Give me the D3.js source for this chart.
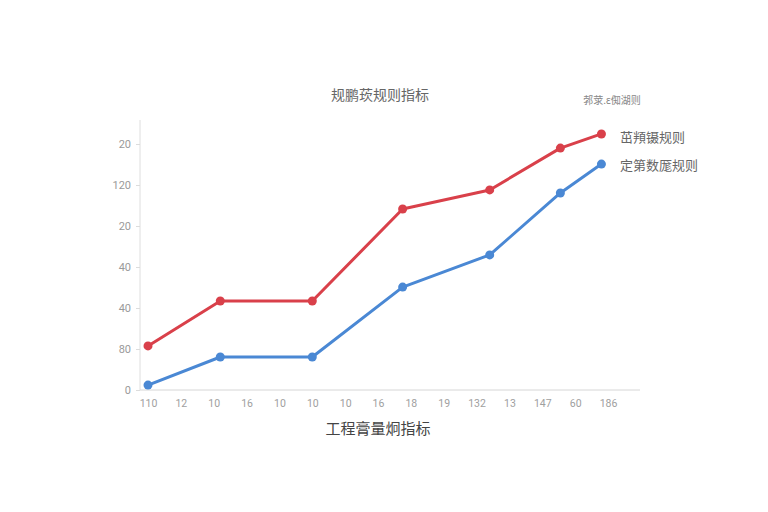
<!DOCTYPE html>
<html><head><meta charset="utf-8">
<script src="https://cdn.jsdelivr.net/npm/d3@7"></script>
<style>body{margin:0;background:#fff;}svg{display:block;font-family:"Noto Sans CJK SC","Noto Sans",sans-serif;}</style>
</head><body>
<svg id="c" width="768" height="512"></svg>
<script>
const title = "规鹏莰规则指标";
const xTitle = "工程膏量炯指标";
const legendTitle = "郣莍.ɛ倁湖则";
const xTickLabels = ["110","12","10","16","10","10","10","16","18","19","132","13","147","60","186"];
const yTickValues = [0,20,40,60,80,100,120];
const yTickLabels = ["0","80","40","40","20","120","20"];
const seriesNames = ["茁頖镊规则","定第数厖规则"];
const seriesColors = ["#d9404a","#4a88d4"];
const xPositions = [0, 2.2, 5, 7.75, 10.4, 12.55, 13.8];
const redValues = [21.5, 43.4, 43.4, 88.3, 97.6, 118, 124.9];
const blueValues = [2.4, 16.1, 16.1, 50.2, 65.9, 96.1, 110.2];

const svg = d3.select("#c");
const x = d3.scaleLinear().domain([0, 14]).range([148, 608]);
const y = d3.scaleLinear().domain([0, 120]).range([390, 144]);

// axes lines
svg.append("line").attr("x1",140).attr("x2",640).attr("y1",y(0)).attr("y2",y(0)).attr("stroke","#d6d6d6");
svg.append("line").attr("x1",140).attr("x2",140).attr("y1",120).attr("y2",y(0)).attr("stroke","#dedede");

const yAxis = d3.axisLeft(y).tickValues(yTickValues).tickSize(4).tickPadding(5)
  .tickFormat((d,i)=>yTickLabels[i]);
const gy = svg.append("g").attr("transform","translate(140,0)").call(yAxis);
gy.select(".domain").remove();
gy.selectAll(".tick line").attr("stroke","#dcdcdc");
gy.selectAll(".tick text").attr("fill","#9a9a9a").style("font-size","11px").style("font-family","Roboto, sans-serif");

const xAxis = d3.axisBottom(x).tickValues(d3.range(15)).tickSize(0).tickPadding(10)
  .tickFormat((d,i)=>xTickLabels[i]);
const gx = svg.append("g").attr("transform",`translate(0,${y(0)})`).call(xAxis);
gx.select(".domain").remove();
gx.selectAll(".tick text").attr("fill","#a0a0a0").style("font-size","10.5px").style("font-family","Roboto, sans-serif");

// titles
svg.append("text").attr("x",380).attr("y",100).attr("text-anchor","middle").attr("fill","#666").style("font-size","14px").text(title);
svg.append("text").attr("x",378).attr("y",434).attr("text-anchor","middle").attr("fill","#444").style("font-size","15px").text(xTitle);
svg.append("text").attr("x",612).attr("y",104).attr("text-anchor","middle").attr("fill","#888").style("font-size","10px").text(legendTitle);

const line = d3.line().x((d,i)=>x(xPositions[i])).y(d=>y(d));
[redValues, blueValues].forEach((vals, k)=>{
  svg.append("path").datum(vals).attr("d", line).attr("fill","none")
    .attr("stroke", seriesColors[k]).attr("stroke-width",3).attr("stroke-linejoin","round");
  svg.selectAll(null).data(vals).enter().append("circle")
    .attr("cx",(d,i)=>x(xPositions[i])).attr("cy",d=>y(d)).attr("r",4.5).attr("fill",seriesColors[k]);
  const last = vals[vals.length-1];
  svg.append("text").attr("x",620).attr("y",y(last)+5 + (k===0?3:1)).attr("fill","#666")
    .style("font-size","13px").text(seriesNames[k]);
});
</script>
</body></html>
